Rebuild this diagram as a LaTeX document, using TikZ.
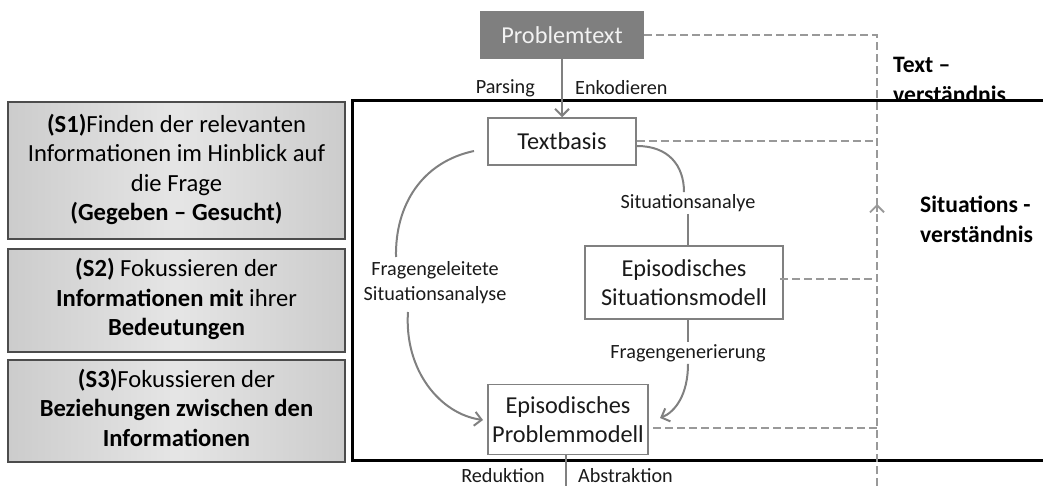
\documentclass[tikz,border=0pt]{standalone}
\usepackage{fontspec}
\setmainfont{Carlito}
\usetikzlibrary{arrows.meta}
\definecolor{lgray}{HTML}{808080}
\definecolor{dgray}{HTML}{7F7F7F}
\definecolor{dashgray}{HTML}{999999}
\definecolor{txt}{HTML}{1A1A1A}
\tikzset{
  mainbox/.style={draw=lgray, line width=1.5pt, fill=white, text=txt, align=center, inner sep=0pt,
    font=\fontsize{24.3}{29}\selectfont},
  sbox/.style={draw=black!70, line width=1.2pt, left color=black!20, right color=black!20, middle color=black!10,
    text=black, inner sep=0pt, minimum width=337pt, font=\fontsize{24.6}{29.5}\selectfont},
  lbl/.style={text=txt, inner sep=2pt, font=\fontsize{20.2}{25}\selectfont, align=center},
  conn/.style={draw=lgray, line width=2pt},
  arr/.style={conn, -{Straight Barb[length=7pt,width=14pt,line width=2pt]}},
  dline/.style={draw=dashgray, line width=2pt, dash pattern=on 8pt off 4pt},
  sidelbl/.style={text=black, font=\bfseries\fontsize{23.6}{30}\selectfont, align=left, inner sep=0pt, anchor=west},
  frameline/.style={draw=black, line width=3pt},
}
\newcommand{\stack}[2][0pt]{\raisebox{#1}{\begin{tabular}{@{}c@{}}#2\end{tabular}}}
\begin{document}
\begin{tikzpicture}[x=1pt,y=-1pt]
\useasboundingbox (0,0) rectangle (1043,486);

% left S boxes
\node[sbox, minimum height=137pt] (s1) at (176.5,170.5) {\stack[5pt]{\textbf{(S1)}Finden der relevanten\\Informationen im Hinblick auf\\die Frage\\\textbf{(Gegeben -- Gesucht)}}};
\node[sbox, minimum height=103pt] (s2) at (176.5,300.5) {\stack[-1pt]{\textbf{(S2)} Fokussieren der\\\textbf{Informationen mit} ihrer\\\textbf{Bedeutungen}}};
\node[sbox, minimum height=102pt] (s3) at (176.5,411) {\stack[-1pt]{\textbf{(S3)}Fokussieren der\\\textbf{Beziehungen zwischen den}\\\textbf{Informationen}}};

% right side labels
\node[sidelbl] (tv) at (893,80) {Text --\\verständnis};
\fill[white] (885,102) rectangle (1043,112);
\node[sidelbl] (sv) at (920,219) {Situations -\\verständnis};

% frame
\coordinate (ftl) at (352,101);
\coordinate (ftr) at (1043,101);
\coordinate (fbl) at (352,460);
\coordinate (fbr) at (1043,460);
\draw[frameline] (ftr) -- (ftl) -- (fbl) -- (fbr);

% main nodes
\node[draw=dgray, fill=dgray, line width=1.5pt, text=white!95!black, minimum width=163pt, minimum height=46pt,
  font=\fontsize{24.3}{29}\selectfont, inner sep=0pt] (pt) at (562,35) {Problemtext};
\node[mainbox, minimum width=148pt, minimum height=47pt] (tb) at (562,141.5) {Textbasis};
\node[mainbox, minimum width=198pt, minimum height=73pt] (esm) at (684,282.5) {Episodisches\\Situationsmodell};
\node[mainbox, minimum width=160pt, minimum height=70pt] (epm) at (568,419.5) {Episodisches\\Problemmodell};

% labels
\node[lbl, anchor=east] (lpars) at (537,88) {Parsing};
\node[lbl, anchor=west] (lenk) at (573,88) {Enkodieren};
\node[lbl] (lsa) at (688,203) {Situationsanalye};
\node[lbl] (lfg) at (688,353) {Fragengenerierung};
\node[lbl] (lfs) at (435,283) {Fragengeleitete\\Situationsanalyse};
\node[lbl, anchor=east] (lred) at (547,476) {Reduktion};
\node[lbl, anchor=west] (labs) at (576,476) {Abstraktion};

% helper coordinates
\coordinate (sacol) at (684,0);
\coordinate (tbstart) at (637,146);
\coordinate (pmtip) at (660,418);
\coordinate (pmbot) at (566,486);
\coordinate (la1) at (474,151);
\coordinate (la2) at (396,257);
\coordinate (lb1) at (408,312);
\coordinate (lb2) at (483,420);
\coordinate (vtop) at (877,35);
\coordinate (vmid) at (877,204);
\coordinate (vmidb) at (877,212);
\coordinate (vbot) at (877,486);
\coordinate (esmd) at (780,279);
\coordinate (epmd) at (653,428);

% solid connectors
\draw[arr] (pt.south) -- (tb.north);
\draw[conn] (tbstart) .. controls (668,146) and (684,165) .. (lsa.north -| sacol);
\draw[conn] (lsa.south) -- (lsa.south |- esm.north);
\draw[conn] (lfg.north |- esm.south) -- (lfg.north);
\draw[arr] (lfg.south) .. controls (688,395) and (675,412) .. (pmtip);
\draw[conn] (la1) .. controls (422,162) and (395,205) .. (la2);
\draw[arr] (lb1) .. controls (404,370) and (440,414) .. (lb2);
\draw[conn] (epm.south -| pmbot) -- (pmbot);

% dashed connectors
\draw[dline] (pt.east) -- (vtop) -- (vmid);
\draw[dline] (vbot) -- (vmid);
\draw[draw=dashgray, line width=1.8pt, -{Straight Barb[length=7pt,width=14pt,line width=1.8pt]}] (vmidb) -- (vmid);
\draw[dline] (tb.east) -- (tb.east -| vtop);
\draw[dline] (esmd) -- (esmd -| vtop);
\draw[dline] (epmd) -- (epmd -| vtop);
\end{tikzpicture}
\end{document}
